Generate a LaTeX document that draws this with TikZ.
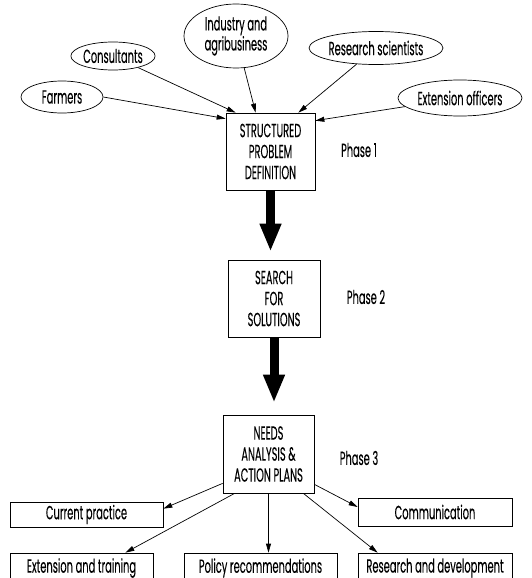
\documentclass[tikz,border=0pt]{standalone}
\usepackage{fontspec}
\setmainfont[FakeStretch=0.52,FakeBold=0.15]{Poppins}
\usetikzlibrary{shapes.geometric,arrows.meta}
\tikzset{
  every node/.style={font=\fontsize{19}{21}\selectfont},
  oval/.style={draw, ellipse, inner sep=0pt, line width=0.7pt},
  phasebox/.style={draw, rectangle, inner sep=0pt, align=center, line width=0.7pt},
  outbox/.style={draw, rectangle, inner sep=0pt, line width=0.7pt},
  thin arrow/.style={draw, line width=0.7pt, -{Triangle[length=9pt,width=5pt]}},
  big arrow/.style={draw, line width=9pt, -{Triangle[length=28pt,width=20pt]}},
}
\begin{document}
\begin{tikzpicture}[x=1pt,y=-1pt]
\clip (0,0) rectangle (532,578);
% sources
\node[oval, minimum width=82pt, minimum height=32pt] (farm) at (62,97) {Farmers};
\node[oval, minimum width=82pt, minimum height=28pt] (cons) at (113,56) {Consultants};
\node[oval, minimum width=104pt, minimum height=64pt, align=center] (ind) at (236,36) {Industry and\\[-1pt]agribusiness};
\node[oval, minimum width=126pt, minimum height=33pt] (res) at (376,48) {Research scientists};
\node[oval, minimum width=124pt, minimum height=36pt] (ext) at (460,98) {Extension officers};
% phase boxes
\node[phasebox, minimum width=89pt, minimum height=77pt] (p1) at (270.5,151.5) {STRUCTURED\\PROBLEM\\DEFINITION};
\node[phasebox, minimum width=92pt, minimum height=77pt] (p2) at (274,298.5) {SEARCH\\FOR\\SOLUTIONS};
\node[phasebox, minimum width=91pt, minimum height=78pt] (p3) at (268.5,454) {NEEDS\\ANALYSIS \&\\ACTION PLANS};
\node (ph1) at (359,150) {Phase 1};
\node (ph2) at (366,297) {Phase 2};
\node (ph3) at (359,458) {Phase 3};
% outputs
\node[outbox, minimum width=153pt, minimum height=25pt] (cur) at (86.5,514.5) {Current practice};
\node[outbox, minimum width=154pt, minimum height=28pt] (com) at (435,512) {Communication};
\node[outbox, minimum width=143pt, minimum height=30pt] (et) at (81.5,568) {Extension and training};
\node[outbox, minimum width=153pt, minimum height=30pt] (pol) at (260.5,568) {Policy recommendations};
\node[outbox, minimum width=154pt, minimum height=30pt] (rd) at (435,568) {Research and development};
% inputs
\draw[thin arrow] (farm.east) -- ([yshift=-6pt]p1.north west);
\draw[thin arrow] (cons) -- ([xshift=10pt]p1.north west);
\draw[thin arrow] (ind) -- ([xshift=30pt]p1.north west);
\draw[thin arrow] (res) -- ([xshift=-17pt]p1.north east);
\draw[thin arrow] (ext) -- ([yshift=-8pt]p1.north east);
% phase arrows
\draw[big arrow, shorten >=8pt] (p1.south) -- (p1.south |- p2.north);
\draw[big arrow, shorten >=12pt] (p2.south) -- (p2.south |- p3.north);
% outputs
\draw[thin arrow] ([yshift=10pt]p3.south west) -- ([yshift=-7pt]cur.north east);
\draw[thin arrow] ([xshift=12pt]p3.south west) -- ([xshift=-28pt]et.north east);
\draw[thin arrow] (p3.south) -- (p3.south |- pol.north);
\draw[thin arrow] ([xshift=-11pt]p3.south east) -- ([xshift=20pt]rd.north west);
\draw[thin arrow] ([yshift=9pt]p3.south east) -- ([yshift=5pt]com.west);
\end{tikzpicture}
\end{document}
